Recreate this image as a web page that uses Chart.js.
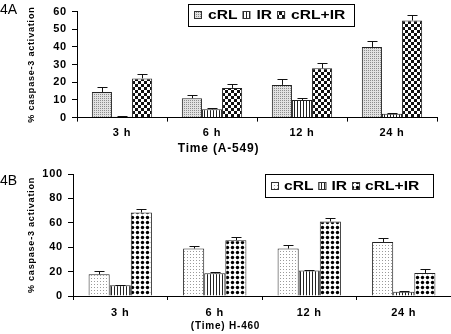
<!DOCTYPE html>
<html>
<head>
<meta charset="utf-8">
<script src="https://cdn.jsdelivr.net/npm/chart.js@4.4.0/dist/chart.umd.min.js"></script>
<style>
  html, body { margin: 0; padding: 0; background: #fff; }
  #wrap { position: relative; width: 451px; height: 334px; }
  canvas { position: absolute; left: 0; }
  #chartA { top: 0; }
  #chartB { top: 160px; }
</style>
</head>
<body>
<div id="wrap">
  <canvas id="chartA" width="451" height="160"></canvas>
  <canvas id="chartB" width="451" height="174"></canvas>
</div>
<script>
const timePoints = ['3 h', '6 h', '12 h', '24 h'];
const seriesNames = ['cRL', 'IR', 'cRL+IR'];

// A-549, % caspase-3 activation (mean and upper error)
const a549Crl = [14.5, 11, 18.5, 40];
const a549Ir = [0.5, 4.7, 10, 2.2];
const a549Combo = [22.2, 16.8, 27.9, 55];
const a549CrlErr = [2.8, 1.7, 3.2, 3.1];
const a549IrErr = [0.4, 1.0, 0.9, 0.3];
const a549ComboErr = [2.3, 2.0, 2.8, 3.0];

// H-460
const h460Crl = [17.8, 38.9, 38.9, 44.3];
const h460Ir = [8.9, 18.6, 20.8, 3.5];
const h460Combo = [68.4, 45.7, 61.1, 18.9];
const h460CrlErr = [2.7, 2.1, 3.3, 3.0];
const h460IrErr = [0.2, 0.9, 0.8, 0.2];
const h460ComboErr = [3.2, 2.4, 3.2, 3.0];

Chart.defaults.font.family = '"Liberation Sans", Arial, sans-serif';
Chart.defaults.color = '#000';

function makePattern(size, paint) {
  const c = document.createElement('canvas');
  c.width = size;
  c.height = size;
  const g = c.getContext('2d');
  paint(g, size);
  return g.createPattern(c, 'repeat');
}

const fills = {
  greyDots: makePattern(2, (g) => {
    g.fillStyle = '#e2e2e2'; g.fillRect(0, 0, 2, 2);
    g.fillStyle = '#8c8c8c'; g.fillRect(0, 0, 1, 1);
  }),
  lightDots: makePattern(3, (g) => {
    g.fillStyle = '#fff'; g.fillRect(0, 0, 3, 3);
    g.fillStyle = '#9a9a9a'; g.fillRect(1, 1, 1, 1);
  }),
  stripes: makePattern(3, (g) => {
    g.fillStyle = '#fff'; g.fillRect(0, 0, 3, 3);
    g.fillStyle = '#222'; g.fillRect(0, 0, 1, 3);
  }),
  checker: makePattern(6, (g) => {
    g.fillStyle = '#111'; g.fillRect(0, 0, 6, 6);
    g.fillStyle = '#fff'; g.fillRect(0, 0, 3, 3); g.fillRect(3, 3, 3, 3);
  }),
  bigDots: makePattern(5, (g) => {
    g.fillStyle = '#fff'; g.fillRect(0, 0, 5, 5);
    g.fillStyle = '#000';
    g.beginPath(); g.arc(2.5, 2.5, 1.7, 0, Math.PI * 2); g.fill();
  }),
};

// wider tracking for all chart text
const tracking = {
  id: 'tracking',
  beforeDraw(chart, args, opts) {
    chart.ctx.letterSpacing = opts.spacing;
  },
};

// upper whisker with a cap on every bar
const errorBars = {
  id: 'errorBars',
  afterDatasetsDraw(chart, args, opts) {
    const { ctx } = chart;
    const y = chart.scales.y;
    ctx.save();
    ctx.strokeStyle = '#111';
    ctx.lineWidth = 1;
    chart.data.datasets.forEach((ds, i) => {
      chart.getDatasetMeta(i).data.forEach((bar, j) => {
        const x = Math.round(bar.x) + 0.5;
        const top = Math.round(y.getPixelForValue(ds.data[j] + ds.errors[j])) + 0.5;
        ctx.beginPath();
        ctx.moveTo(x, bar.y);
        ctx.lineTo(x, top);
        ctx.moveTo(x - opts.cap, top);
        ctx.lineTo(x + opts.cap, top);
        ctx.stroke();
      });
    });
    ctx.restore();
  },
};

// legend in a framed box, one row
const boxedLegend = {
  id: 'boxedLegend',
  afterDraw(chart, args, opts) {
    const { ctx } = chart;
    ctx.save();
    ctx.letterSpacing = '0px';
    ctx.fillStyle = '#fff';
    ctx.fillRect(opts.x, opts.y, opts.w, opts.h);
    ctx.strokeStyle = '#000';
    ctx.lineWidth = 1;
    ctx.strokeRect(opts.x + 0.5, opts.y + 0.5, opts.w, opts.h);
    ctx.font = 'bold ' + opts.fontSize + 'px "Liberation Sans", Arial, sans-serif';
    ctx.textBaseline = 'middle';
    const cy = Math.round(opts.y + opts.h / 2);
    let x = opts.x + opts.pad;
    chart.data.datasets.forEach((ds) => {
      ctx.fillStyle = ds.backgroundColor;
      ctx.fillRect(x, cy - 4, 8, 8);
      ctx.strokeStyle = '#333';
      ctx.strokeRect(x + 0.5, cy - 3.5, 7, 7);
      x += 8 + opts.gap;
      ctx.fillStyle = '#000';
      ctx.save();
      ctx.translate(x, cy + 1);
      ctx.scale(opts.stretch, 1);
      ctx.fillText(ds.label, 0, 0);
      ctx.restore();
      x += ctx.measureText(ds.label).width * opts.stretch + opts.itemGap;
    });
    ctx.restore();
  },
};

const panelLabel = {
  id: 'panelLabel',
  afterDraw(chart, args, opts) {
    const { ctx } = chart;
    ctx.save();
    ctx.letterSpacing = '0px';
    ctx.font = '14px "Liberation Sans", Arial, sans-serif';
    ctx.fillStyle = '#000';
    ctx.textBaseline = 'top';
    ctx.fillText(opts.text, opts.x, opts.y);
    ctx.restore();
  },
};

function axisOptions(max, step, leftWidth, bottomHeight, tickPad) {
  return {
    x: {
      grid: { display: true, drawOnChartArea: false, offset: true, tickLength: 4, color: '#000' },
      border: { color: '#000' },
      ticks: { font: { size: 11, weight: 'bold' }, padding: tickPad },
      afterFit(s) { s.height = bottomHeight; },
    },
    y: {
      min: 0,
      max: max,
      ticks: { stepSize: step, font: { size: 11, weight: 'bold' }, padding: 5 },
      grid: { drawOnChartArea: false, tickLength: 5, color: '#000' },
      border: { color: '#000' },
      title: {
        display: true,
        text: '% caspase-3 activation',
        font: { size: 9, weight: 'bold' },
        padding: { top: 26, bottom: 0 },
      },
      afterFit(s) { s.width = leftWidth; },
    },
  };
}

function barSets(fillList, values, errors) {
  return seriesNames.map((name, i) => ({
    label: name,
    data: values[i],
    errors: errors[i],
    backgroundColor: fillList[i],
    borderColor: '#222',
    borderWidth: 1,
    categoryPercentage: 0.67,
    barPercentage: 1,
  }));
}

new Chart(document.getElementById('chartA'), {
  type: 'bar',
  data: {
    labels: timePoints,
    datasets: barSets(
      [fills.greyDots, fills.stripes, fills.checker],
      [a549Crl, a549Ir, a549Combo],
      [a549CrlErr, a549IrErr, a549ComboErr]
    ),
  },
  options: {
    responsive: false,
    animation: false,
    layout: { padding: { top: 11, right: 14, left: 0, bottom: 0 } },
    scales: axisOptions(60, 10, 77, 21, 5),
    plugins: {
      legend: { display: false },
      tooltip: { enabled: false },
      title: {
        display: true,
        position: 'bottom',
        text: 'Time (A-549)',
        font: { size: 12, weight: 'bold' },
        padding: { top: 3, bottom: 4 },
      },
      tracking: { spacing: '0.8px' },
      errorBars: { cap: 5 },
      boxedLegend: { x: 188, y: 4, w: 166, h: 22, pad: 6, gap: 6, itemGap: 5, fontSize: 12, stretch: 1.3 },
      panelLabel: { text: '4A', x: 0, y: 3 },
    },
  },
  plugins: [tracking, errorBars, boxedLegend, panelLabel],
});

new Chart(document.getElementById('chartB'), {
  type: 'bar',
  data: {
    labels: timePoints,
    datasets: barSets(
      [fills.lightDots, fills.stripes, fills.bigDots],
      [h460Crl, h460Ir, h460Combo],
      [h460CrlErr, h460IrErr, h460ComboErr]
    ),
  },
  options: {
    responsive: false,
    animation: false,
    layout: { padding: { top: 14, right: 0, left: 0, bottom: 0 } },
    scales: axisOptions(100, 20, 73, 24, 6),
    plugins: {
      legend: { display: false },
      tooltip: { enabled: false },
      title: {
        display: true,
        position: 'bottom',
        text: '(Time) H-460',
        font: { size: 10, weight: 'bold' },
        padding: { top: 0, bottom: 2 },
      },
      tracking: { spacing: '0.8px' },
      errorBars: { cap: 5 },
      boxedLegend: { x: 265, y: 14, w: 168, h: 23, pad: 6, gap: 5, itemGap: 5, fontSize: 12, stretch: 1.3 },
      panelLabel: { text: '4B', x: 0, y: 14 },
    },
  },
  plugins: [tracking, errorBars, boxedLegend, panelLabel],
});
</script>
</body>
</html>
